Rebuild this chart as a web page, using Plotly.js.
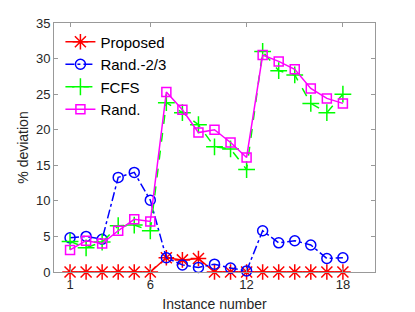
<!DOCTYPE html>
<html><head><meta charset="utf-8">
<script src="https://cdn.plot.ly/plotly-3.0.1.min.js"></script>
<style>html,body{margin:0;padding:0;background:#fff;}#chart{width:415px;height:312px;}</style>
</head><body><div id="chart"></div>
<script>
const instances = [1,2,3,4,5,6,7,8,9,10,11,12,13,14,15,16,17,18];
const proposed = [0,0,0,0,0,0,2.0,1.7,1.9,0,0,0,0,0,0,0,0,0];
const rand23 = [4.8,5.0,4.6,13.3,14.0,10.1,2.0,1.0,0.65,1.1,0.55,0.15,5.8,4.1,4.4,3.8,1.9,2.0];
const fcfs = [4.3,3.4,4.2,6.5,6.6,5.8,23.8,22.4,20.7,17.6,17.3,14.4,31.0,28.3,27.7,23.7,22.4,25.0];
const randAll = [3.1,4.4,4.0,5.8,7.4,7.1,25.3,22.8,19.6,20.0,18.2,16.1,30.5,29.6,28.5,25.8,24.4,23.7];
const xTicks = [1,6,12,18];
const yTicks = [0,5,10,15,20,25,30,35];

const font = {family:'Liberation Sans, Arial, sans-serif', size:13, color:'#262626'};
const traces = [
  {x:instances, y:proposed, name:'Proposed', mode:'lines+markers', cliponaxis:false,
   line:{color:'#ff0000', width:1.5},
   marker:{symbol:'asterisk-open', size:13, color:'#ff0000', line:{color:'#ff0000', width:1.5}}},
  {x:instances, y:rand23, name:'Rand.-2/3', mode:'lines+markers', cliponaxis:false,
   line:{color:'#0000ff', width:1.5, dash:'dashdot'},
   marker:{symbol:'circle-open', size:10, color:'#0000ff', line:{color:'#0000ff', width:1.5}}},
  {x:instances, y:fcfs, name:'FCFS', mode:'lines+markers', cliponaxis:false,
   line:{color:'#00ff00', width:1.5, dash:'dash'},
   marker:{symbol:'cross-thin-open', size:12, color:'#00ff00', line:{color:'#00ff00', width:1.5}}},
  {x:instances, y:randAll, name:'Rand.', mode:'lines+markers', cliponaxis:false,
   line:{color:'#ff00ff', width:1.5},
   marker:{symbol:'square-open', size:9, color:'#ff00ff', line:{color:'#ff00ff', width:1.5}}}
];
const axisCommon = {showgrid:false, zeroline:false, showline:true, linecolor:'#999999', linewidth:1,
  mirror:'ticks', ticks:'inside', ticklen:4, tickcolor:'#999999', tickfont:font};
const layout = {
  width:415, height:312,
  margin:{l:54, r:40, t:23, b:40},
  paper_bgcolor:'#ffffff', plot_bgcolor:'#ffffff',
  font:font,
  showlegend:true,
  legend:{x:0.02, y:0.99, xanchor:'left', yanchor:'top', bgcolor:'rgba(255,255,255,0)',
    borderwidth:0, font:{family:'Liberation Sans, Arial, sans-serif', size:15, color:'#000'},
    tracegroupgap:0, itemwidth:30},
  xaxis:Object.assign({}, axisCommon, {range:[0,20], tickvals:xTicks, ticktext:xTicks.map(String),
    title:{text:'Instance number', font:{family:'Liberation Sans, Arial, sans-serif', size:14, color:'#262626'}, standoff:8}}),
  yaxis:Object.assign({}, axisCommon, {range:[0,35], tickvals:yTicks, ticktext:yTicks.map(String),
    title:{text:'% deviation', font:{family:'Liberation Sans, Arial, sans-serif', size:14, color:'#262626'}, standoff:4}})
};
Plotly.newPlot('chart', traces, layout, {staticPlot:true, displayModeBar:false});
</script></body></html>
